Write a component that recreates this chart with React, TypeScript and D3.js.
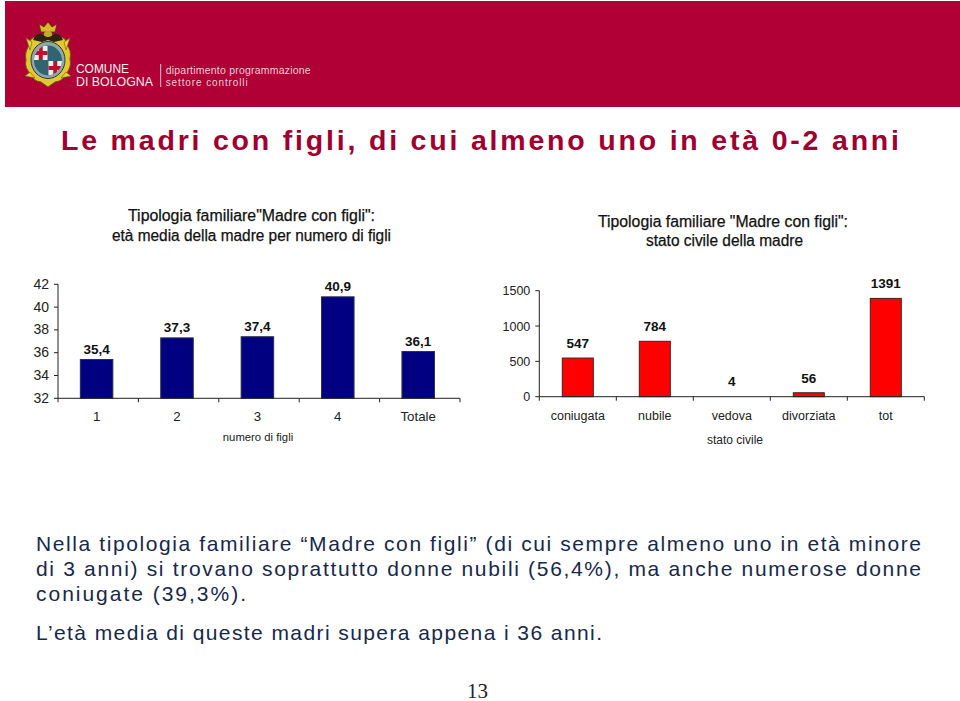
import React from "react";
import * as d3 from "d3";

const ageCategories = ["1", "2", "3", "4", "Totale"];
const ageValues = [35.4, 37.3, 37.4, 40.9, 36.1];
const ageLabels = ["35,4", "37,3", "37,4", "40,9", "36,1"];
const ageTicks = [32, 34, 36, 38, 40, 42];
const civilCategories = ["coniugata", "nubile", "vedova", "divorziata", "tot"];
const civilValues = [547, 784, 4, 56, 1391];
const civilTicks = [0, 500, 1000, 1500];
const paragraphLines = [
  "Nella tipologia familiare “Madre con figli” (di cui sempre almeno uno in età minore",
  "di 3 anni) si trovano soprattutto donne nubili (56,4%), ma anche numerose donne",
  "coniugate (39,3%).",
];
const paragraphLengths = [885, 885, 210];

const SANS = "'Liberation Sans', Arial, sans-serif";
const HEADER = "#b00035";
const TITLE = "#a00030";
const NAVY = "#17284c";

function BarChart(props: {
  cats: string[]; values: number[]; labels: string[]; ticks: number[]; domain: [number, number];
  x0: number; x1: number; yTop: number; yBase: number; barW: number; color: string; stroke: string;
  shift: number; labelGap: number; axisTitle: string; titleX: number; titleY: number; titleSize: number; catY: number; tickSize: number; catSize: number;
}) {
  const { cats, values, labels, ticks, domain, x0, x1, yTop, yBase, barW, color, stroke, shift, labelGap, axisTitle, titleX, titleY, titleSize, catY, tickSize, catSize } = props;
  const x = d3.scaleBand<string>().domain(cats).range([x0, x1]);
  const y = d3.scaleLinear().domain(domain).range([yBase, yTop]);
  const bw = x.bandwidth();
  const edges = cats.map((c) => x(c) as number).concat([x1]);
  return (
    <g fontFamily={SANS}>
      {values.map((v, i) => {
        const cx = (x(cats[i]) as number) + bw / 2 + shift;
        const h = yBase - y(v);
        return (
          <g key={cats[i]}>
            {h >= 1 && <rect x={cx - barW / 2} y={y(v)} width={barW} height={h} fill={color} stroke={stroke} strokeWidth={1} />}
            <text x={cx} y={y(v) - labelGap} textAnchor="middle" fontSize={13.5} fontWeight="bold" fill="#111">{labels[i]}</text>
            <text x={cx} y={catY} textAnchor="middle" fontSize={catSize} fill="#222">{cats[i]}</text>
          </g>
        );
      })}
      <line x1={x0} x2={x0} y1={y(ticks[ticks.length - 1])} y2={yBase} stroke="#222" />
      <line x1={x0} x2={x1} y1={yBase} y2={yBase} stroke="#222" />
      {edges.map((e, i) => <line key={i} x1={e} x2={e} y1={yBase} y2={yBase + 4} stroke="#222" />)}
      {ticks.map((t) => (
        <g key={t}>
          <line x1={x0 - 4} x2={x0} y1={y(t)} y2={y(t)} stroke="#222" />
          <text x={x0 - 9} y={y(t) + 4.5} textAnchor="end" fontSize={tickSize} fill="#222">{t}</text>
        </g>
      ))}
      <text x={titleX} y={titleY} textAnchor="middle" fontSize={titleSize} fill="#222">{axisTitle}</text>
    </g>
  );
}

function CrossPanel(p: { x: number; y: number; w: number; h: number }) {
  const { x, y, w, h } = p;
  return (
    <g>
      <rect x={x} y={y} width={w} height={h} fill="#eee" />
      <rect x={x + w / 2 - 2} y={y} width={4} height={h} fill="#c01030" />
      <rect x={x} y={y + h / 2 - 2} width={w} height={4} fill="#c01030" />
    </g>
  );
}

function Logo() {
  return (
    <g>
      <rect x={5} y={1} width={955} height={106} fill={HEADER} />
      {/* ornate gold frame */}
      <path d="M36 37 Q29 38 30 44 Q24 52 26 60 Q24 68 31 74 Q33 81 41 82 L48 87 L55 82 Q63 81 66 74 Q72 67 70 59 Q72 50 66 44 Q67 38 60 37 Q54 33 48 36 Q42 33 36 37Z" fill="#e2c832" stroke="#6b5a12" strokeWidth={1} />
      <path d="M32 42 L26 38 L30 50Z M64 42 L70 38 L66 50Z M30 72 L25 76 L35 78Z M66 72 L71 76 L61 78Z" fill="#e8d040" stroke="#6b5a12" strokeWidth={0.6} />
      {/* crown and eagle */}
      <path d="M41 32 L39 24 L44 27 L48 22 L52 27 L57 24 L55 32Z" fill="#d8b92a" stroke="#4a3c10" strokeWidth={0.8} />
      <path d="M33 40 Q38 30 45 36 L48 33 L51 36 Q58 30 63 40 L54 42 L48 40 L42 42Z" fill="#2a2412" />
      <ellipse cx={48} cy={34} rx={4} ry={3} fill="#c9a92a" />
      {/* shield */}
      <ellipse cx={48} cy={60} rx={17} ry={18.5} fill="#8fa6ac" stroke="#2e3d34" strokeWidth={1} />
      <ellipse cx={48} cy={60.5} rx={14} ry={15} fill="#2f6470" />
      <clipPath id="shieldClip"><ellipse cx={48} cy={60.5} rx={14} ry={15} /></clipPath>
      <g clipPath="url(#shieldClip)">
        <CrossPanel x={34} y={46} w={13.5} h={14} />
        <CrossPanel x={48.5} y={61} w={13.5} h={14} />
      </g>
      <g fontFamily={SANS} fill="#f4f0f0">
        <text x={76} y={73} fontSize={13.5} textLength={53} lengthAdjust="spacingAndGlyphs">COMUNE</text>
        <text x={76} y={86} fontSize={13.5} textLength={77} lengthAdjust="spacingAndGlyphs">DI BOLOGNA</text>
      </g>
      <line x1={160.7} x2={160.7} y1={64} y2={87} stroke="#e0c0c8" />
      <g fontFamily={SANS} fill="#eecdd5">
        <text x={165.7} y={74} fontSize={10.5} textLength={145}>dipartimento programmazione</text>
        <text x={165.7} y={86} fontSize={10} textLength={82}>settore controlli</text>
      </g>
    </g>
  );
}

export default function App() {
  return (
    <svg width={960} height={701} style={{ position: "absolute", left: 0, top: 0, background: "#fff" }}>
      <Logo />
      <text x={61} y={150} fontFamily={SANS} fontSize={28.5} fontWeight="bold" fill={TITLE} textLength={838}>Le madri con figli, di cui almeno uno in età 0-2 anni</text>
      <g fontFamily={SANS} fontSize={15.6} fill="#111" stroke="#111" strokeWidth={0.25}>
        <text x={128} y={221} textLength={247} lengthAdjust="spacingAndGlyphs">Tipologia familiare"Madre con figli":</text>
        <text x={112} y={241} textLength={279} lengthAdjust="spacingAndGlyphs">età media della madre per numero di figli</text>
        <text x={598} y={227} textLength={250} lengthAdjust="spacingAndGlyphs">Tipologia familiare "Madre con figli":</text>
        <text x={646} y={246} textLength={157} lengthAdjust="spacingAndGlyphs">stato civile della madre</text>
      </g>
      <BarChart cats={ageCategories} values={ageValues} labels={ageLabels} ticks={ageTicks} domain={[32, 42]}
        x0={58} x1={460} yTop={284.3} yBase={398.3} barW={32.5} color="#000080" stroke="#2a2a50" shift={-1.6}
        labelGap={5.6} axisTitle="numero di figli" titleX={258} titleY={441} titleSize={11.3} catY={421} tickSize={14} catSize={13.3} />
      <BarChart cats={civilCategories} values={civilValues} labels={civilValues.map(String)} ticks={civilTicks} domain={[0, 1500]}
        x0={539.3} x1={924.3} yTop={290.7} yBase={396.7} barW={31} color="#ff0000" stroke="#402020" shift={0}
        labelGap={10} axisTitle="stato civile" titleX={735} titleY={444} titleSize={12} catY={420} tickSize={12.5} catSize={12.5} />
      <g fontFamily={SANS} fontSize={21} fill={NAVY}>
        {paragraphLines.map((l, i) => (
          <text key={i} x={36} y={551 + i * 25} textLength={paragraphLengths[i]}>{l}</text>
        ))}
        <text x={36} y={639.5} textLength={566}>L’età media di queste madri supera appena i 36 anni.</text>
      </g>
      <text x={477.5} y={698} textAnchor="middle" fontFamily="'Liberation Serif', serif" fontSize={21} fill="#222">13</text>
    </svg>
  );
}
